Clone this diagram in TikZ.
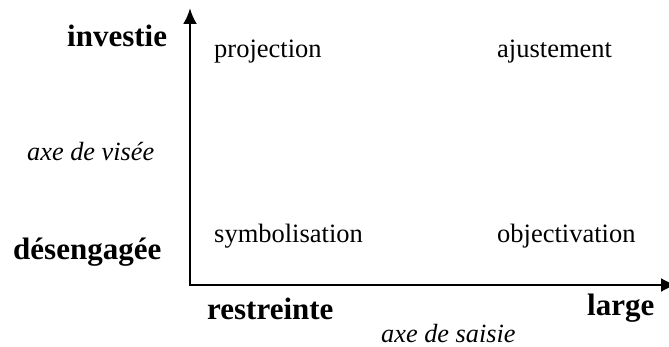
\documentclass[tikz,border=0pt]{standalone}
\usepackage{fontspec}
\setmainfont{Liberation Serif}
\usetikzlibrary{arrows.meta}
\tikzset{
  term/.style={anchor=base west, inner sep=0pt, font=\fontsize{26.5}{30}\selectfont},
  pole/.style={anchor=base west, inner sep=0pt, font=\fontsize{31}{35}\selectfont\bfseries},
  axisname/.style={anchor=base west, inner sep=0pt, font=\fontsize{26.3}{30}\selectfont\itshape},
  axisline/.style={line width=2.7pt, {Latex[length=16pt,width=14pt]}-{Latex[length=16pt,width=14pt]}}
}
\begin{document}
\begin{tikzpicture}[x=1pt, y=-1pt]
  \useasboundingbox (0,0) rectangle (669,347);
  % axes
  \coordinate (origin) at (190,285);
  \coordinate (ytip) at (190,8);
  \coordinate (xtip) at (677,285);
  \draw[axisline] (ytip) -- (origin) -- (xtip);
  % vertical axis poles and name
  \node[pole] (investie) at (67,47) {investie};
  \node[axisname] (visee) at (27,161) {axe de visée};
  \node[pole] (desengagee) at (13,260) {désengagée};
  % horizontal axis poles and name
  \node[pole] (restreinte) at (207,319) {restreinte};
  \node[pole] (large) at (587,315) {large};
  \node[axisname] (saisie) at (381,342) {axe de saisie};
  % quadrants
  \node[term] (projection) at (214,58) {projection};
  \node[term] (ajustement) at (497,58) {ajustement};
  \node[term] (symbolisation) at (214,243) {symbolisation};
  \node[term] (objectivation) at (497,243) {objectivation};
\end{tikzpicture}
\end{document}
